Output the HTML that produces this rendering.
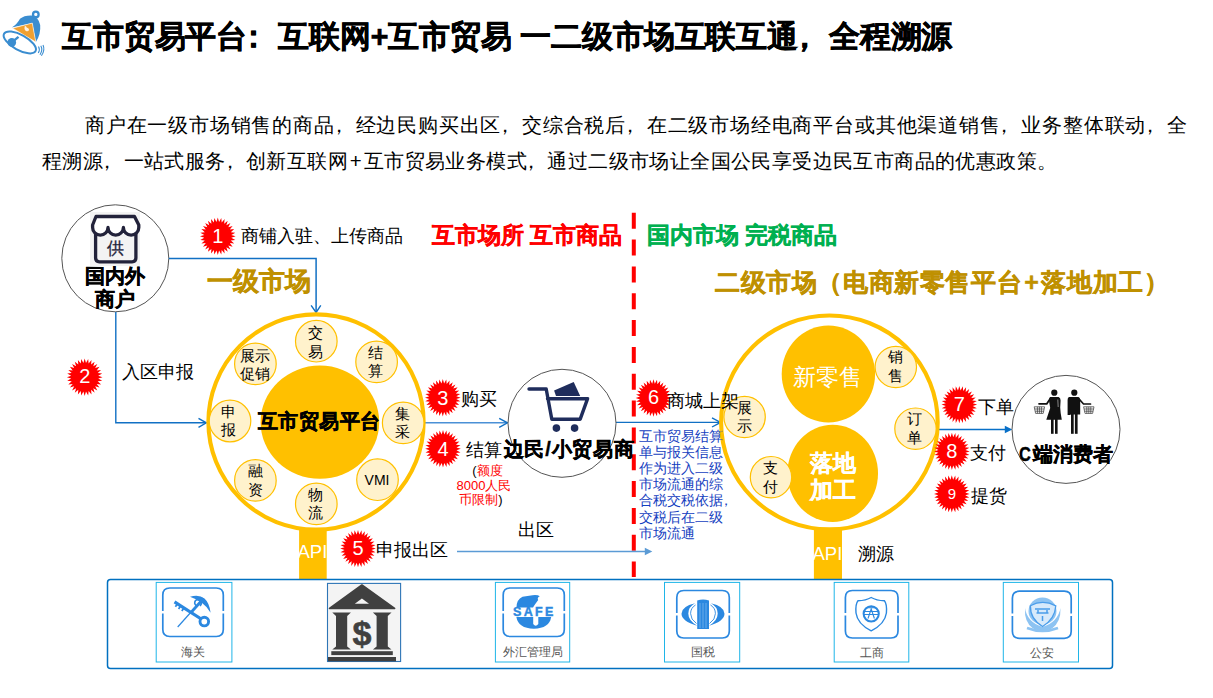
<!DOCTYPE html>
<html><head><meta charset="utf-8"><style>
html,body{margin:0;padding:0;background:#fff;width:1213px;height:698px;overflow:hidden;position:relative}
body{font-family:"Liberation Sans",sans-serif}
.t{position:absolute;white-space:nowrap;line-height:1;text-spacing-trim:space-all}
</style></head><body>
<svg width="1213" height="698" style="position:absolute;left:0;top:0"><line x1="633.8" y1="212.7" x2="633.8" y2="577" stroke="#FF0000" stroke-width="4" stroke-dasharray="16 10.84"/><circle cx="115.3" cy="258.3" r="53.5" fill="#fff" stroke="#555" stroke-width="1"/><path d="M168.8 258.5 H316.1 V312" fill="none" stroke="#1170C4" stroke-width="1.5"/><path d="M311.1 305.4 L316.1 312.5 L320.8 305.4" fill="none" stroke="#1170C4" stroke-width="1.4"/><path d="M115.8 312 V422.8 H206" fill="none" stroke="#1170C4" stroke-width="1.4"/><path d="M198.5 418.3 L206.3 422.8 L198.5 427.3" fill="none" stroke="#1170C4" stroke-width="1.4"/><path d="M425 422.8 H507" fill="none" stroke="#4A90D6" stroke-width="1.6"/><path d="M499.2 418.3 L507.5 422.8 L499.2 427.3" fill="none" stroke="#1170C4" stroke-width="1.4"/><path d="M616 422.4 H720" fill="none" stroke="#1170C4" stroke-width="1.4"/><path d="M712 417.8 L720.6 422.4 L712 427" fill="none" stroke="#1170C4" stroke-width="1.4"/><path d="M937 429.5 H1006" fill="none" stroke="#0870C8" stroke-width="1.5"/><path d="M1004.8 425.8 L1012.3 429.5 L1004.8 433.2 Z" fill="#0870C8"/><path d="M457 551.5 H646" fill="none" stroke="#5B9BD5" stroke-width="1.5"/><path d="M644.8 547.8 L652.3 551.5 L644.8 555.2 Z" fill="#5B9BD5"/><rect x="299.1" y="525" width="27.6" height="54" fill="#FFC000"/><rect x="813.9" y="525" width="28.1" height="54" fill="#FFC000"/><circle cx="316" cy="422" r="107.6" fill="#fff" stroke="#FFC000" stroke-width="4.1"/><ellipse cx="319.9" cy="422.2" rx="59.3" ry="56.6" fill="#FFC000"/><circle cx="316.3" cy="341.2" r="20.8" fill="#FFF2CC" stroke="#FFC000" stroke-width="1.2"/><circle cx="376.6" cy="361.9" r="20.8" fill="#FFF2CC" stroke="#FFC000" stroke-width="1.2"/><circle cx="403.2" cy="422.9" r="20.8" fill="#FFF2CC" stroke="#FFC000" stroke-width="1.2"/><circle cx="377.5" cy="479.7" r="20.8" fill="#FFF2CC" stroke="#FFC000" stroke-width="1.2"/><circle cx="316.3" cy="503.9" r="20.8" fill="#FFF2CC" stroke="#FFC000" stroke-width="1.2"/><circle cx="255.4" cy="480.4" r="20.8" fill="#FFF2CC" stroke="#FFC000" stroke-width="1.2"/><circle cx="230" cy="421" r="20.8" fill="#FFF2CC" stroke="#FFC000" stroke-width="1.2"/><circle cx="255.4" cy="363.9" r="20.8" fill="#FFF2CC" stroke="#FFC000" stroke-width="1.2"/><ellipse cx="829.4" cy="422.4" rx="108.3" ry="106.9" fill="#fff" stroke="#FFC000" stroke-width="4.1"/><ellipse cx="828.4" cy="374" rx="46.7" ry="48.5" fill="#FFC000"/><ellipse cx="832.7" cy="473.4" rx="45.3" ry="48.6" fill="#FFC000"/><circle cx="895.8" cy="367" r="20.7" fill="#FFF2CC" stroke="#FFC000" stroke-width="1.2"/><circle cx="744.6" cy="417" r="20.7" fill="#FFF2CC" stroke="#FFC000" stroke-width="1.2"/><circle cx="915.5" cy="428.7" r="20.7" fill="#FFF2CC" stroke="#FFC000" stroke-width="1.2"/><circle cx="771" cy="477.2" r="20.7" fill="#FFF2CC" stroke="#FFC000" stroke-width="1.2"/><circle cx="562" cy="423.3" r="54" fill="#fff" stroke="#555" stroke-width="1"/><circle cx="1066" cy="429.4" r="54" fill="#fff" stroke="#555" stroke-width="1"/><polygon fill="#FF0000" points="217.8,217.6 219.1,222.1 221.3,218.0 221.7,222.6 224.6,219.0 224.2,223.7 227.7,220.8 226.4,225.3 230.4,223.1 228.3,227.2 232.6,225.9 229.8,229.6 234.2,229.1 230.8,232.2 235.3,232.7 231.3,234.9 235.6,236.3 231.3,237.7 235.3,239.9 230.8,240.4 234.2,243.5 229.8,243.0 232.6,246.7 228.3,245.4 230.4,249.5 226.4,247.3 227.7,251.8 224.2,248.9 224.6,253.6 221.7,250.0 221.3,254.6 219.1,250.5 217.8,255.0 216.5,250.5 214.3,254.6 213.9,250.0 211.0,253.6 211.4,248.9 207.9,251.8 209.2,247.3 205.2,249.5 207.3,245.4 203.0,246.7 205.8,243.0 201.4,243.5 204.8,240.4 200.3,239.9 204.3,237.7 200.0,236.3 204.3,234.9 200.3,232.7 204.8,232.2 201.4,229.1 205.8,229.6 203.0,225.9 207.3,227.2 205.2,223.1 209.2,225.3 207.9,220.8 211.4,223.7 211.0,219.0 213.9,222.6 214.3,218.0 216.5,222.1"/><polygon fill="#FF0000" points="84.7,358.5 86.0,363.0 88.2,358.9 88.6,363.5 91.5,359.9 91.1,364.6 94.6,361.7 93.3,366.2 97.3,364.0 95.2,368.1 99.5,366.8 96.7,370.5 101.1,370.0 97.7,373.1 102.2,373.6 98.2,375.8 102.5,377.2 98.2,378.6 102.2,380.8 97.7,381.3 101.1,384.4 96.7,383.9 99.5,387.6 95.2,386.3 97.3,390.4 93.3,388.2 94.6,392.7 91.1,389.8 91.5,394.5 88.6,390.9 88.2,395.5 86.0,391.4 84.7,395.9 83.4,391.4 81.2,395.5 80.8,390.9 77.9,394.5 78.3,389.8 74.8,392.7 76.1,388.2 72.1,390.4 74.2,386.3 69.9,387.6 72.7,383.9 68.3,384.4 71.7,381.3 67.2,380.8 71.2,378.6 66.9,377.2 71.2,375.8 67.2,373.6 71.7,373.1 68.3,370.0 72.7,370.5 69.9,366.8 74.2,368.1 72.1,364.0 76.1,366.2 74.8,361.7 78.3,364.6 77.9,359.9 80.8,363.5 81.2,358.9 83.4,363.0"/><polygon fill="#FF0000" points="442.8,379.0 444.1,383.5 446.3,379.4 446.7,384.0 449.6,380.4 449.2,385.1 452.7,382.2 451.4,386.7 455.4,384.5 453.3,388.6 457.6,387.3 454.8,391.0 459.2,390.5 455.8,393.6 460.3,394.1 456.3,396.3 460.6,397.7 456.3,399.1 460.3,401.3 455.8,401.8 459.2,404.9 454.8,404.4 457.6,408.1 453.3,406.8 455.4,410.9 451.4,408.7 452.7,413.2 449.2,410.3 449.6,415.0 446.7,411.4 446.3,416.0 444.1,411.9 442.8,416.4 441.5,411.9 439.3,416.0 438.9,411.4 436.0,415.0 436.4,410.3 432.9,413.2 434.2,408.7 430.2,410.9 432.3,406.8 428.0,408.1 430.8,404.4 426.4,404.9 429.8,401.8 425.3,401.3 429.3,399.1 425.0,397.7 429.3,396.3 425.3,394.1 429.8,393.6 426.4,390.5 430.8,391.0 428.0,387.3 432.3,388.6 430.2,384.5 434.2,386.7 432.9,382.2 436.4,385.1 436.0,380.4 438.9,384.0 439.3,379.4 441.5,383.5"/><polygon fill="#FF0000" points="443.0,430.1 444.3,434.6 446.5,430.5 446.9,435.1 449.8,431.5 449.4,436.2 452.9,433.3 451.6,437.8 455.6,435.6 453.5,439.7 457.8,438.4 455.0,442.1 459.4,441.6 456.0,444.7 460.5,445.2 456.5,447.4 460.8,448.8 456.5,450.2 460.5,452.4 456.0,452.9 459.4,456.0 455.0,455.5 457.8,459.2 453.5,457.9 455.6,462.0 451.6,459.8 452.9,464.3 449.4,461.4 449.8,466.1 446.9,462.5 446.5,467.1 444.3,463.0 443.0,467.5 441.7,463.0 439.5,467.1 439.1,462.5 436.2,466.1 436.6,461.4 433.1,464.3 434.4,459.8 430.4,462.0 432.5,457.9 428.2,459.2 431.0,455.5 426.6,456.0 430.0,452.9 425.5,452.4 429.5,450.2 425.2,448.8 429.5,447.4 425.5,445.2 430.0,444.7 426.6,441.6 431.0,442.1 428.2,438.4 432.5,439.7 430.4,435.6 434.4,437.8 433.1,433.3 436.6,436.2 436.2,431.5 439.1,435.1 439.5,430.5 441.7,434.6"/><polygon fill="#FF0000" points="358.0,529.9 359.3,534.4 361.5,530.3 361.9,534.9 364.8,531.3 364.4,536.0 367.9,533.1 366.6,537.6 370.6,535.4 368.5,539.5 372.8,538.2 370.0,541.9 374.4,541.4 371.0,544.5 375.5,545.0 371.5,547.2 375.8,548.6 371.5,550.0 375.5,552.2 371.0,552.7 374.4,555.8 370.0,555.3 372.8,559.0 368.5,557.7 370.6,561.8 366.6,559.6 367.9,564.1 364.4,561.2 364.8,565.9 361.9,562.3 361.5,566.9 359.3,562.8 358.0,567.3 356.7,562.8 354.5,566.9 354.1,562.3 351.2,565.9 351.6,561.2 348.1,564.1 349.4,559.6 345.4,561.8 347.5,557.7 343.2,559.0 346.0,555.3 341.6,555.8 345.0,552.7 340.5,552.2 344.5,550.0 340.2,548.6 344.5,547.2 340.5,545.0 345.0,544.5 341.6,541.4 346.0,541.9 343.2,538.2 347.5,539.5 345.4,535.4 349.4,537.6 348.1,533.1 351.6,536.0 351.2,531.3 354.1,534.9 354.5,530.3 356.7,534.4"/><polygon fill="#FF0000" points="653.5,379.3 654.8,383.8 657.0,379.7 657.4,384.3 660.3,380.7 659.9,385.4 663.4,382.5 662.1,387.0 666.1,384.8 664.0,388.9 668.3,387.6 665.5,391.3 669.9,390.8 666.5,393.9 671.0,394.4 667.0,396.6 671.3,398.0 667.0,399.4 671.0,401.6 666.5,402.1 669.9,405.2 665.5,404.7 668.3,408.4 664.0,407.1 666.1,411.2 662.1,409.0 663.4,413.5 659.9,410.6 660.3,415.3 657.4,411.7 657.0,416.3 654.8,412.2 653.5,416.7 652.2,412.2 650.0,416.3 649.6,411.7 646.7,415.3 647.1,410.6 643.6,413.5 644.9,409.0 640.9,411.2 643.0,407.1 638.7,408.4 641.5,404.7 637.1,405.2 640.5,402.1 636.0,401.6 640.0,399.4 635.7,398.0 640.0,396.6 636.0,394.4 640.5,393.9 637.1,390.8 641.5,391.3 638.7,387.6 643.0,388.9 640.9,384.8 644.9,387.0 643.6,382.5 647.1,385.4 646.7,380.7 649.6,384.3 650.0,379.7 652.2,383.8"/><polygon fill="#FF0000" points="959.3,385.9 960.6,390.4 962.8,386.3 963.2,390.9 966.1,387.3 965.7,392.0 969.2,389.1 967.9,393.6 971.9,391.4 969.8,395.5 974.1,394.2 971.3,397.9 975.7,397.4 972.3,400.5 976.8,401.0 972.8,403.2 977.1,404.6 972.8,406.0 976.8,408.2 972.3,408.7 975.7,411.8 971.3,411.3 974.1,415.0 969.8,413.7 971.9,417.8 967.9,415.6 969.2,420.1 965.7,417.2 966.1,421.9 963.2,418.3 962.8,422.9 960.6,418.8 959.3,423.3 958.0,418.8 955.8,422.9 955.4,418.3 952.5,421.9 952.9,417.2 949.4,420.1 950.7,415.6 946.7,417.8 948.8,413.7 944.5,415.0 947.3,411.3 942.9,411.8 946.3,408.7 941.8,408.2 945.8,406.0 941.5,404.6 945.8,403.2 941.8,401.0 946.3,400.5 942.9,397.4 947.3,397.9 944.5,394.2 948.8,395.5 946.7,391.4 950.7,393.6 949.4,389.1 952.9,392.0 952.5,387.3 955.4,390.9 955.8,386.3 958.0,390.4"/><polygon fill="#FF0000" points="951.9,432.7 953.2,437.2 955.4,433.1 955.8,437.7 958.7,434.1 958.3,438.8 961.8,435.9 960.5,440.4 964.5,438.2 962.4,442.3 966.7,441.0 963.9,444.7 968.3,444.2 964.9,447.3 969.4,447.8 965.4,450.0 969.7,451.4 965.4,452.8 969.4,455.0 964.9,455.5 968.3,458.6 963.9,458.1 966.7,461.8 962.4,460.5 964.5,464.6 960.5,462.4 961.8,466.9 958.3,464.0 958.7,468.7 955.8,465.1 955.4,469.7 953.2,465.6 951.9,470.1 950.6,465.6 948.4,469.7 948.0,465.1 945.1,468.7 945.5,464.0 942.0,466.9 943.3,462.4 939.3,464.6 941.4,460.5 937.1,461.8 939.9,458.1 935.5,458.6 938.9,455.5 934.4,455.0 938.4,452.8 934.1,451.4 938.4,450.0 934.4,447.8 938.9,447.3 935.5,444.2 939.9,444.7 937.1,441.0 941.4,442.3 939.3,438.2 943.3,440.4 942.0,435.9 945.5,438.8 945.1,434.1 948.0,437.7 948.4,433.1 950.6,437.2"/><polygon fill="#FF0000" points="951.8,475.2 953.1,479.7 955.3,475.6 955.7,480.2 958.6,476.6 958.2,481.3 961.7,478.4 960.4,482.9 964.4,480.7 962.3,484.8 966.6,483.5 963.8,487.2 968.2,486.7 964.8,489.8 969.3,490.3 965.3,492.5 969.6,493.9 965.3,495.3 969.3,497.5 964.8,498.0 968.2,501.1 963.8,500.6 966.6,504.3 962.3,503.0 964.4,507.1 960.4,504.9 961.7,509.4 958.2,506.5 958.6,511.2 955.7,507.6 955.3,512.2 953.1,508.1 951.8,512.6 950.5,508.1 948.3,512.2 947.9,507.6 945.0,511.2 945.4,506.5 941.9,509.4 943.2,504.9 939.2,507.1 941.3,503.0 937.0,504.3 939.8,500.6 935.4,501.1 938.8,498.0 934.3,497.5 938.3,495.3 934.0,493.9 938.3,492.5 934.3,490.3 938.8,489.8 935.4,486.7 939.8,487.2 937.0,483.5 941.3,484.8 939.2,480.7 943.2,482.9 941.9,478.4 945.4,481.3 945.0,476.6 947.9,480.2 948.3,475.6 950.5,479.7"/><rect x="107.5" y="579.5" width="1005" height="89" rx="3" fill="#fff" stroke="#0070C0" stroke-width="1.5"/><rect x="156.2" y="582.4" width="75.7" height="79.6" fill="#fff" stroke="#1FB5E8" stroke-width="1"/><rect x="495.4" y="582.4" width="74.3" height="79.6" fill="#fff" stroke="#1FB5E8" stroke-width="1"/><rect x="664.5" y="582.4" width="75.2" height="79.6" fill="#fff" stroke="#1FB5E8" stroke-width="1"/><rect x="834.2" y="582.4" width="74.6" height="79.6" fill="#fff" stroke="#1FB5E8" stroke-width="1"/><rect x="1003.3" y="582.4" width="75.2" height="79.6" fill="#fff" stroke="#1FB5E8" stroke-width="1"/><rect x="327.5" y="583.4" width="73.1" height="78.1" fill="#f4f4f4" stroke="#2E75B6" stroke-width="1.1"/><rect x="90" y="212" width="50" height="54" fill="#f3f3f3"/><path d="M96,216.5 H134.5 L138.8,225 V227.5 A7.7,7.7 0 0 1 123.4,227.5 A7.7,7.7 0 0 1 108,227.5 A7.7,7.7 0 0 1 92.6,227.5 V225 Z" fill="#fff" stroke="#22223a" stroke-width="3.3" stroke-linejoin="round"/><path d="M95.6,233.5 V258 Q95.6,261.8 99.4,261.8 H132.1 Q135.9,261.8 135.9,258 V233.5" fill="none" stroke="#22223a" stroke-width="3.3"/><path d="M529,389 H546.2 L551.8,419.2 H580.2 L587.6,398.7 H547.5" fill="none" stroke="#1F2D5C" stroke-width="3.4" stroke-linecap="round" stroke-linejoin="round"/><circle cx="556.4" cy="428.1" r="3.8" fill="#1F2D5C"/><circle cx="574.6" cy="428.1" r="3.8" fill="#1F2D5C"/><polygon points="554.1,390.4 573.7,382 580.2,396 556,396" fill="#1F2D5C"/><circle cx="1054.3" cy="392.7" r="3.1" fill="#111"/><circle cx="1074.3" cy="392.7" r="3.1" fill="#111"/><path d="M1050.2,397 H1058.6 Q1060.6,397.6 1060.6,400.5 L1060.2,407.5 Q1060.4,413 1061.8,419.8 H1046.3 Q1048.5,413 1050.2,408 L1049.2,402 Q1048.8,397.6 1050.2,397 Z" fill="#111"/><path d="M1057.8,399.5 L1058.2,407" stroke="#fff" stroke-width="0.5"/><rect x="1051" y="419" width="2.6" height="14.8" fill="#111"/><rect x="1055" y="419" width="2.6" height="14.8" fill="#111"/><path d="M1050,399 L1046.8,403.8 H1039" fill="none" stroke="#111" stroke-width="1.7" stroke-linecap="round"/><path d="M1069,397 H1078.5 Q1080.2,397.5 1080.2,400 V414.6 H1070.4 V415 H1067.6 V400 Q1067.6,397.5 1069,397 Z" fill="#111"/><rect x="1071" y="414" width="2.7" height="19.8" fill="#111"/><rect x="1074.9" y="414" width="2.7" height="19.8" fill="#111"/><path d="M1079.5,399.5 L1083.5,404 H1090.5" fill="none" stroke="#111" stroke-width="1.7" stroke-linecap="round"/><path d="M1034.2,406.8 H1044.6000000000001 L1043.2,413.4 H1035.6000000000001 Z M1034.7,409 H1044.1000000000001 M1035.2,411.2 H1043.6000000000001 M1037.4,406.8 V413.4 M1039.4,406.8 V413.4 M1041.4,406.8 V413.4" fill="none" stroke="#333" stroke-width="0.7"/><path d="M1083.6,406.8 H1094.0 L1092.6,413.4 H1085.0 Z M1084.1,409 H1093.5 M1084.6,411.2 H1093.0 M1086.8,406.8 V413.4 M1088.8,406.8 V413.4 M1090.8,406.8 V413.4" fill="none" stroke="#333" stroke-width="0.7"/><path d="M11.8,27.4 Q17,24.5 20,18.8 Q24,15.2 31.5,15.4 Q38.5,16.5 40.2,25 Q41,34 35.8,42.3 L32.3,23.1 Z" fill="#3A8DD0"/><circle cx="35.8" cy="14.4" r="2.8" fill="none" stroke="#3A8DD0" stroke-width="2.3"/><polygon points="12.6,28.2 32.3,23.1 35.8,42" fill="#F0A030" stroke="#fff" stroke-width="0.6"/><path d="M24.6,26.5 q0.8,-1.2 1.6,0 q0.2,1.2 1.5,1.5 q1.5,0.3 1.3,2 q-0.5,1.6 -2.6,1.2 q-1.8,-0.6 -1.9,-2.4 z" fill="#fff" opacity="0.85"/><ellipse cx="19.8" cy="42.4" rx="18" ry="7.6" transform="rotate(29 19.8 42.4)" fill="none" stroke="#3A8DD0" stroke-width="2"/><path d="M18.5,36.8 L11.8,42.4" stroke="#3A8DD0" stroke-width="2.4"/><circle cx="11.8" cy="42.4" r="4.3" fill="#3A8DD0"/><path d="M38.5,46.5 q1.8,3 -0.2,6.5 M40.8,45.8 q2.4,4 -0.8,9 M43,45 q2.4,5 -1.6,10.8" fill="none" stroke="#3A8DD0" stroke-width="1.1"/><path d="M162.8,611.05 V595 Q162.8,588 169.8,588 H216.3 Q223.3,588 223.3,595 V611.05 M223.3,613.45 V629.5 Q223.3,636.5 216.3,636.5 H169.8 Q162.8,636.5 162.8,629.5 V613.45" fill="none" stroke="#2B88E0" stroke-width="1.7"/><path d="M503.2,611.05 V595 Q503.2,588 510.2,588 H557.3 Q564.3,588 564.3,595 V611.05 M564.3,613.45 V629.5 Q564.3,636.5 557.3,636.5 H510.2 Q503.2,636.5 503.2,629.5 V613.45" fill="none" stroke="#2B88E0" stroke-width="1.7"/><path d="M676.8,613.05 V597.5 Q676.8,590.5 683.8,590.5 H722.3 Q729.3,590.5 729.3,597.5 V613.05 M729.3,615.45 V631 Q729.3,638 722.3,638 H683.8 Q676.8,638 676.8,631 V615.45" fill="none" stroke="#2B88E0" stroke-width="1.7"/><path d="M845.4,613.05 V597.5 Q845.4,590.5 852.4,590.5 H891 Q898,590.5 898,597.5 V613.05 M898,615.45 V631 Q898,638 891,638 H852.4 Q845.4,638 845.4,631 V615.45" fill="none" stroke="#2B88E0" stroke-width="1.7"/><path d="M1012.4,613.55 V598.2 Q1012.4,591.2 1019.4,591.2 H1064.2 Q1071.2,591.2 1071.2,598.2 V613.55 M1071.2,615.95 V631.3 Q1071.2,638.3 1064.2,638.3 H1019.4 Q1012.4,638.3 1012.4,631.3 V615.95" fill="none" stroke="#2B88E0" stroke-width="1.7"/><path d="M174.5,601.9 L201.2,619" stroke="#2B88E0" stroke-width="3.2"/><circle cx="204.3" cy="621.6" r="4.3" fill="none" stroke="#2B88E0" stroke-width="2.9"/><path d="M177.2,604.2 l-1.8,2.6 M180.4,606.3 l-1.8,2.6 M183.6,608.4 l-1.8,2.6" stroke="#2B88E0" stroke-width="1.7"/><path d="M177.7,627 L192,611" stroke="#2B88E0" stroke-width="1.2"/><path d="M191,612.5 L203.5,598.5" stroke="#2B88E0" stroke-width="2.8"/><path d="M196.5,606 q-3,-2.5 -1,-5.5 q2.5,-2 5,0.5 q2,2.5 -0.5,5" fill="none" stroke="#2B88E0" stroke-width="1.6"/><path d="M190,596.7 Q199,594 204.5,598.5 Q209.5,603 210.6,612.8 Q206.5,606 201.5,602.5 Q196.5,599 190,596.7 Z" fill="#2B88E0"/><path d="M329.5,608.5 L361.9,585 L394.6,608.5 Z" fill="#404040" stroke="#404040" stroke-width="1.6" stroke-linejoin="round"/><polygon points="354.8,603.8 369,603.8 361.9,598.6" fill="#f4f4f4"/><path d="M332.3,612.6 H350.90000000000003 L347.20000000000005,616 V646.5 L350.90000000000003,649.6 H332.3 L336.0,646.5 V616 Z" fill="#404040"/><path d="M372.9,612.6 H391.5 L387.8,616 V646.5 L391.5,649.6 H372.9 L376.59999999999997,646.5 V616 Z" fill="#404040"/><rect x="331.3" y="651.2" width="61.5" height="3.9" fill="#404040"/><rect x="328" y="657" width="68" height="4.3" fill="#404040"/><path d="M516.5,607.5 Q516.5,599.5 522.5,596.8 L532.5,595.2 Q537.5,594.6 539.8,596.2 Q536.8,597.8 538.2,600 Q535.5,603.5 533,607.5 Z" fill="#2B88E0"/><path d="M516.4,617 H551.2 Q549.5,628.3 533.8,628.8 Q518.2,628.3 516.4,617 Z" fill="#2B88E0"/><path d="M533.2,617 V624 Q535.7,627.5 538.3,624 V617 Z" fill="#fff"/><path d="M695.1,603.3 Q681.5,606.5 681.5,613.7 Q681.5,621 697.2,625.8 Q688.3,620.5 688.3,613.5 Q688.3,607 695.1,603.3 Z M710.9,603.3 Q724.5,606.5 724.5,613.7 Q724.5,621 709.1,625.8 Q717.7,620.5 717.7,613.5 Q717.7,607 710.9,603.3 Z" fill="#2B88E0"/><path d="M695.5,605 Q690.6,608 690.6,613.6 Q690.6,619.5 696.5,623.5 M710.5,605 Q715.4,608 715.4,613.6 Q715.4,619.5 709.5,623.5" fill="none" stroke="#2B88E0" stroke-width="0.9"/><path d="M697.2,600.5 Q703,598.5 709,600.5 V629.1 H697.2 Z" fill="#2B88E0"/><path d="M700,603 V628 M703,603 V628 M706,603 V628" stroke="#a8d0f5" stroke-width="0.5"/><path d="M871.2,597.5 Q866,600.5 858,600.8 Q855.3,604 856,613 Q857.5,624 871.2,630.8 Q884.9,624 886.4,613 Q887.1,604 884.4,600.8 Q876.4,600.5 871.2,597.5 Z" fill="none" stroke="#2B88E0" stroke-width="1.4"/><circle cx="871.2" cy="613.8" r="7.6" fill="#fff" stroke="#2B88E0" stroke-width="2"/><path d="M864.5,611.5 H878 M864,614.5 H878.4 M868,618.5 L871.2,609 L874.4,618.5 M866.5,607.8 H876" stroke="#2B88E0" stroke-width="1.1" fill="none"/><path d="M1025,608 Q1024,622 1033,628.5 Q1042.5,633 1052,628.5 Q1061,622 1060.5,608 Q1058,622 1042.5,627 Q1027,622 1025,608 Z" fill="#8DC3F2"/><ellipse cx="1042.5" cy="611" rx="14" ry="13.5" fill="#8DC3F2"/><path d="M1030.4,605.8 Q1042.5,599 1055.8,605.8 Q1055,619 1042.6,626.5 Q1030,619 1030.4,605.8 Z" fill="#D7EAFB" stroke="#4A9DEA" stroke-width="1.3"/><path d="M1035,609 H1050 M1036.5,613 H1048.5 M1038,610 V613 M1047,610 V613 M1042.5,616 V621" stroke="#4A9DEA" stroke-width="1.5" fill="none"/><path d="M1027,628 Q1042.5,634 1058,628" fill="none" stroke="#8DC3F2" stroke-width="2.5"/></svg>
<div class="t" style="left:62px;top:21px;font-size:31px;color:#000;font-weight:bold;letter-spacing:-0.15px;-webkit-text-stroke:0.5px #000">互市贸易平台<span style="position:relative;left:-0.3em">：</span>互联网+互市贸易 一二级市场互联互通<span style="position:relative;left:-0.3em">，</span>全程溯源</div><div class="t" style="left:42px;top:115px;width:1145px;font-size:20.4px;text-indent:43px;text-align:justify;text-align-last:justify">商户在一级市场销售的商品<span style="position:relative;left:-0.3em">，</span>经边民购买出区<span style="position:relative;left:-0.3em">，</span>交综合税后<span style="position:relative;left:-0.3em">，</span>在二级市场经电商平台或其他渠道销售<span style="position:relative;left:-0.3em">，</span>业务整体联动<span style="position:relative;left:-0.3em">，</span>全</div><div class="t" style="left:42px;top:150.5px;font-size:20.4px;color:#000;font-weight:normal;letter-spacing:0.4px">程溯源<span style="position:relative;left:-0.3em">，</span>一站式服务<span style="position:relative;left:-0.3em">，</span>创新互联网<span style="margin:0 1.7px">+</span>互市贸易业务模式<span style="position:relative;left:-0.3em">，</span>通过二级市场让全国公民享受边民互市商品的优惠政策。</div><div class="t" style="left:241px;top:227.8px;font-size:17.7px;color:#000;font-weight:normal;">商铺入驻、上传商品</div><div class="t" style="left:121.5px;top:364px;font-size:17.7px;color:#000;font-weight:normal;">入区申报</div><div class="t" style="left:207px;top:268.5px;font-size:25.5px;color:#BF9000;font-weight:bold;-webkit-text-stroke:0.4px #BF9000">一级市场</div><div class="t" style="left:432px;top:224.5px;font-size:22.5px;color:#FF0000;font-weight:bold;-webkit-text-stroke:0.4px #FF0000">互市场所 互市商品</div><div class="t" style="left:647px;top:224.5px;font-size:22.5px;color:#00B050;font-weight:bold;-webkit-text-stroke:0.4px #00B050">国内市场 完税商品</div><div class="t" style="left:715px;top:269.5px;font-size:25px;color:#BF9000;font-weight:bold;letter-spacing:0.6px;-webkit-text-stroke:0.4px #BF9000">二级市场（电商新零售平台<span style="margin:0 2px">+</span>落地加工）</div><div class="t" style="left:85px;top:264.5px;font-size:20px;font-weight:bold;line-height:23px;text-align:center;width:60px;-webkit-text-stroke:0.4px #000">国内外<br>商户</div><div class="t" style="left:257.5px;top:411px;font-size:20.3px;color:#000;font-weight:bold;letter-spacing:0.5px;-webkit-text-stroke:0.5px #000">互市贸易平台</div><div class="t" style="left:285.9px;top:324.1px;width:60px;text-align:center;font-size:14.5px;line-height:18.5px">交<br>易</div><div class="t" style="left:345.6px;top:343.5px;width:60px;text-align:center;font-size:14.5px;line-height:18.5px">结<br>算</div><div class="t" style="left:372.6px;top:404.5px;width:60px;text-align:center;font-size:14.5px;line-height:18.5px">集<br>采</div><div class="t" style="left:285.5px;top:485.5px;width:60px;text-align:center;font-size:14.5px;line-height:18.5px">物<br>流</div><div class="t" style="left:225px;top:462.0px;width:60px;text-align:center;font-size:14.5px;line-height:18.5px">融<br>资</div><div class="t" style="left:198.7px;top:402.8px;width:60px;text-align:center;font-size:14.5px;line-height:18.5px">申<br>报</div><div class="t" style="left:224.7px;top:346.5px;width:60px;text-align:center;font-size:14.5px;line-height:18.5px">展示<br>促销</div><div class="t" style="left:865.8px;top:348.4px;width:60px;text-align:center;font-size:14.5px;line-height:18.5px">销<br>售</div><div class="t" style="left:714.7px;top:398.5px;width:60px;text-align:center;font-size:14.5px;line-height:18.5px">展<br>示</div><div class="t" style="left:884.6px;top:410.3px;width:60px;text-align:center;font-size:14.5px;line-height:18.5px">订<br>单</div><div class="t" style="left:740.8px;top:459.0px;width:60px;text-align:center;font-size:14.5px;line-height:18.5px">支<br>付</div><div class="t" style="left:347px;top:472.5px;width:60px;text-align:center;font-size:14px">VMI</div><div class="t" style="left:461px;top:391px;font-size:17.7px;color:#000;font-weight:normal;">购买</div><div class="t" style="left:466px;top:442px;font-size:17.7px;color:#000;font-weight:normal;">结算</div><div class="t" style="left:503.6px;top:439px;font-size:20px;color:#000;font-weight:bold;letter-spacing:0.8px;-webkit-text-stroke:0.4px #000">边民/小贸易商</div><div class="t" style="left:472.3px;top:464px;font-size:13px;color:#FF0000"><span style="color:#000">(</span>额度</div><div class="t" style="left:456.5px;top:478.5px;font-size:13px;color:#FF0000">8000人民</div><div class="t" style="left:459.3px;top:493px;font-size:13px;color:#FF0000">币限制<span style="color:#000">)</span></div><div class="t" style="left:518px;top:522px;font-size:17.7px;color:#000;font-weight:normal;">出区</div><div class="t" style="left:376px;top:542.4px;font-size:17.7px;color:#000;font-weight:normal;">申报出区</div><div class="t" style="left:639px;top:427.5px;font-size:14px;line-height:16.2px;color:#1440C0">互市贸易结算<br>单与报关信息<br>作为进入二级<br>市场流通的综<br>合税交税依据<span style="position:relative;left:-0.3em">，</span><br>交税后在二级<br>市场流通</div><div class="t" style="left:667px;top:393px;font-size:17.7px;color:#000;font-weight:normal;">商城上架</div><div class="t" style="left:977.7px;top:399px;font-size:17.7px;color:#000;font-weight:normal;">下单</div><div class="t" style="left:970px;top:444.5px;font-size:17.7px;color:#000;font-weight:normal;">支付</div><div class="t" style="left:971px;top:487.7px;font-size:17.7px;color:#000;font-weight:normal;">提货</div><div class="t" style="left:1019px;top:444px;font-size:20px;color:#000;font-weight:bold;-webkit-text-stroke:0.4px #000"><span style="display:inline-block;width:14px;transform:scaleX(0.82);transform-origin:0 50%">C</span>端消费者</div><div class="t" style="left:858px;top:545.8px;font-size:17.7px;color:#000;font-weight:normal;">溯源</div><div class="t" style="left:793px;top:366px;font-size:23px;color:#fff;font-weight:normal;">新零售</div><div class="t" style="left:792.7px;top:450px;width:80px;text-align:center;font-size:23px;line-height:26.5px;color:#fff;font-weight:bold;-webkit-text-stroke:0.3px #fff">落地<br>加工</div><div class="t" style="left:297.5px;top:542.6px;font-size:18.5px;color:#fff;font-weight:normal;">API</div><div class="t" style="left:812.5px;top:544.8px;font-size:18.5px;color:#fff;font-weight:normal;">API</div><div class="t" style="left:202.8px;top:226.10000000000002px;width:30px;text-align:center;font-size:20px;color:#fff">1</div><div class="t" style="left:69.7px;top:366.3px;width:30px;text-align:center;font-size:20px;color:#fff">2</div><div class="t" style="left:427.8px;top:387.5px;width:30px;text-align:center;font-size:20px;color:#fff">3</div><div class="t" style="left:428px;top:438.6px;width:30px;text-align:center;font-size:20px;color:#fff">4</div><div class="t" style="left:343px;top:538.0px;width:30px;text-align:center;font-size:20px;color:#fff">5</div><div class="t" style="left:638.5px;top:387.3px;width:30px;text-align:center;font-size:20px;color:#fff">6</div><div class="t" style="left:944.3px;top:394.2px;width:30px;text-align:center;font-size:20px;color:#fff">7</div><div class="t" style="left:936.9px;top:441.2px;width:30px;text-align:center;font-size:20px;color:#fff">8</div><div class="t" style="left:936.8px;top:486.25px;width:30px;text-align:center;font-size:15px;color:#fff">9</div><div class="t" style="left:107px;top:240px;font-size:17px;color:#22223a;font-weight:normal;-webkit-text-stroke:0.3px #22223a">供</div><div class="t" style="left:341px;top:615.5px;width:42px;text-align:center;font-size:34px;font-weight:bold;color:#404040;line-height:34px;-webkit-text-stroke:0.6px #404040">$</div><div class="t" style="left:513px;top:606px;font-size:12.5px;font-weight:bold;color:#2B88E0;letter-spacing:2.3px;-webkit-text-stroke:0.4px #2B88E0">SAFE</div><div class="t" style="left:152.5px;top:645.6px;width:80px;text-align:center;font-size:12px;color:#555">海关</div><div class="t" style="left:493.20000000000005px;top:645.6px;width:80px;text-align:center;font-size:12px;color:#555">外汇管理局</div><div class="t" style="left:663.2px;top:646.3px;width:80px;text-align:center;font-size:12px;color:#555">国税</div><div class="t" style="left:831.7px;top:646.5px;width:80px;text-align:center;font-size:12px;color:#555">工商</div><div class="t" style="left:1001.8px;top:646.9px;width:80px;text-align:center;font-size:12px;color:#555">公安</div>
</body></html>
